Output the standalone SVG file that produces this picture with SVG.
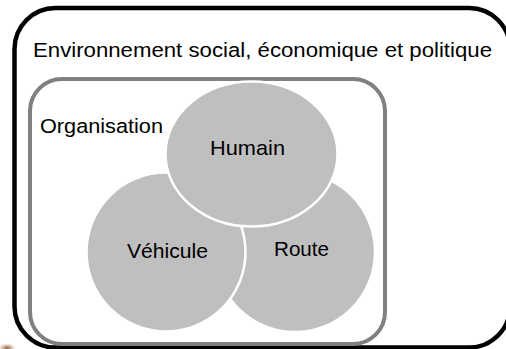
<svg xmlns="http://www.w3.org/2000/svg" width="506" height="349" viewBox="0 0 506 349">
  <style>
    .label { font-family: "Liberation Sans", Arial, sans-serif; fill: #000; }
    .frame { fill: none; }
    .outer { stroke: #000; stroke-width: 4.5; }
    .inner { stroke: #808080; stroke-width: 4; }
    .disc { fill: #bfbfbf; stroke: #fff; stroke-width: 2.5; }
  </style>
  <defs>
    <radialGradient id="smudge" cx="0.5" cy="0.5" r="0.5">
      <stop offset="0" stop-color="#8a5a3a"/>
      <stop offset="1" stop-color="#c9a88a" stop-opacity="0"/>
    </radialGradient>
  </defs>
  <rect width="506" height="349" fill="#fff"/>

  <!-- outer context frame (right side runs past the canvas edge) -->
  <g id="environnement">
    <rect class="frame outer" x="14.5" y="8" width="495.5" height="339.5" rx="41" ry="41"/>
    <text class="label" x="33" y="57" font-size="20.5" textLength="459" lengthAdjust="spacingAndGlyphs">Environnement social, économique et politique</text>
  </g>

  <!-- organisation frame -->
  <g id="organisation">
    <rect class="frame inner" x="30" y="79" width="355" height="265" rx="32" ry="32"/>
    <text class="label" x="40" y="133" font-size="20" textLength="123" lengthAdjust="spacingAndGlyphs">Organisation</text>
  </g>

  <!-- three overlapping discs: route, véhicule, humain -->
  <g id="route">
    <circle class="disc" cx="295" cy="252" r="80"/>
    <text class="label" x="301.5" y="256" font-size="21" text-anchor="middle" textLength="55" lengthAdjust="spacingAndGlyphs">Route</text>
  </g>
  <g id="vehicule">
    <circle class="disc" cx="166" cy="252" r="79.5"/>
    <text class="label" x="167.5" y="258" font-size="21" text-anchor="middle" textLength="81" lengthAdjust="spacingAndGlyphs">Véhicule</text>
  </g>
  <g id="humain">
    <ellipse class="disc" cx="251.5" cy="154" rx="86" ry="72.5"/>
    <text class="label" x="247.5" y="155" font-size="21" text-anchor="middle" textLength="75" lengthAdjust="spacingAndGlyphs">Humain</text>
  </g>

  <g id="connectors"/>

  <!-- small smudge in the lower-left corner -->
  <ellipse cx="7" cy="348" rx="9" ry="5" fill="url(#smudge)"/>
</svg>
